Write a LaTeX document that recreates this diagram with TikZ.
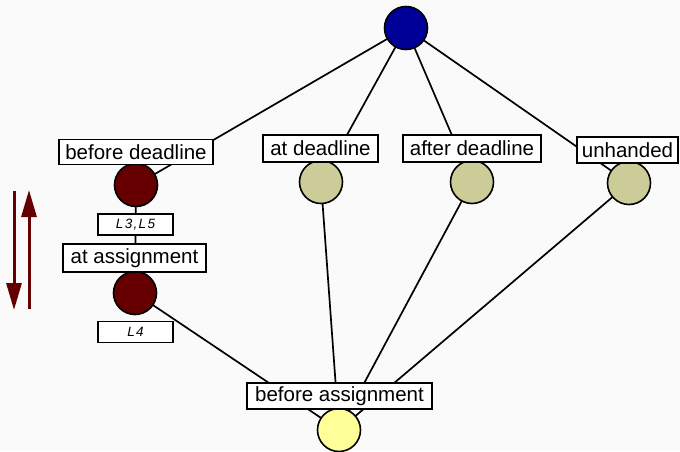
\documentclass[tikz,border=0pt]{standalone}
\usepackage{fontspec}
\setmainfont{Liberation Sans}
\usetikzlibrary{arrows.meta,backgrounds}
\definecolor{bg}{HTML}{FAFAFA}
\definecolor{topblue}{HTML}{000099}
\definecolor{darkred}{HTML}{660000}
\definecolor{khaki}{HTML}{CCCC99}
\definecolor{paleyellow}{HTML}{FFFF99}
\begin{document}
\begin{tikzpicture}[x=1pt,y=-1pt,
  state/.style={circle,draw=black,line width=1.6pt,minimum size=43pt,inner sep=0pt},
  lbl/.style={draw=black,fill=white,line width=1.4pt,inner sep=0pt,minimum height=25pt,font=\fontsize{20.5}{20.5}\selectfont},
  small/.style={draw=black,fill=white,line width=1.3pt,inner sep=0pt,minimum width=75pt,minimum height=21pt,font=\fontsize{13.5}{13.5}\selectfont\itshape\addfontfeature{LetterSpace=10}},
  edge/.style={draw=black,line width=1.7pt},
  bigarrow/.style={draw=darkred,line width=3pt,-{Triangle[length=27pt,width=15pt]}}]
\useasboundingbox (0,0) rectangle (680,451);
% states
\node[state,fill=topblue] (top) at (406,28) {};
\node[state,fill=darkred] (bd) at (136,185) {};
\node[state,fill=darkred] (aa) at (135,293) {};
\node[state,fill=khaki] (ad) at (321,182) {};
\node[state,fill=khaki] (afd) at (472,182) {};
\node[state,fill=khaki] (un) at (629,183) {};
\node[state,fill=paleyellow] (ba) at (339,430) {};
% edges behind the states
\begin{scope}[on background layer]
\fill[bg] (0,0) rectangle (680,451);
\path[edge] (top.center) -- (bd.center);
\path[edge] (top.center) -- (ad.center);
\path[edge] (top.center) -- (afd.center);
\path[edge] (top.center) -- (un.center);
\path[edge] (bd.center) -- (aa.center);
\path[edge] (aa.center) -- (ba.center);
\path[edge] (ad.center) -- (ba.center);
\path[edge] (afd.center) -- (ba.center);
\path[edge] (un.center) -- (ba.center);
\end{scope}
% labels
\node[lbl,minimum width=154pt] (lbd) at (136,152) {before deadline};
\node[lbl,minimum width=115pt,minimum height=27pt] (lad) at (320.5,148.5) {at deadline};
\node[lbl,minimum width=138pt,minimum height=27pt] (lafd) at (472,148.5) {after deadline};
\node[lbl,minimum width=101pt,minimum height=26pt] (lun) at (627.5,150) {unhanded};
\node[lbl,minimum width=143pt,minimum height=28pt] (laa) at (134.5,258) {at assignment};
\node[lbl,minimum width=185pt,minimum height=26pt] (lba) at (339.5,396) {before assignment};
\node[small] (l35) at (135.5,224.5) {L3,L5};
\node[small] (l4) at (135.5,332) {L4};
% direction arrows
\coordinate (d1) at (14,191);
\coordinate (d2) at (14,310);
\coordinate (u1) at (29,309);
\coordinate (u2) at (29,190);
\draw[bigarrow] (d1) -- (d2);
\draw[bigarrow] (u1) -- (u2);
\end{tikzpicture}
\end{document}
